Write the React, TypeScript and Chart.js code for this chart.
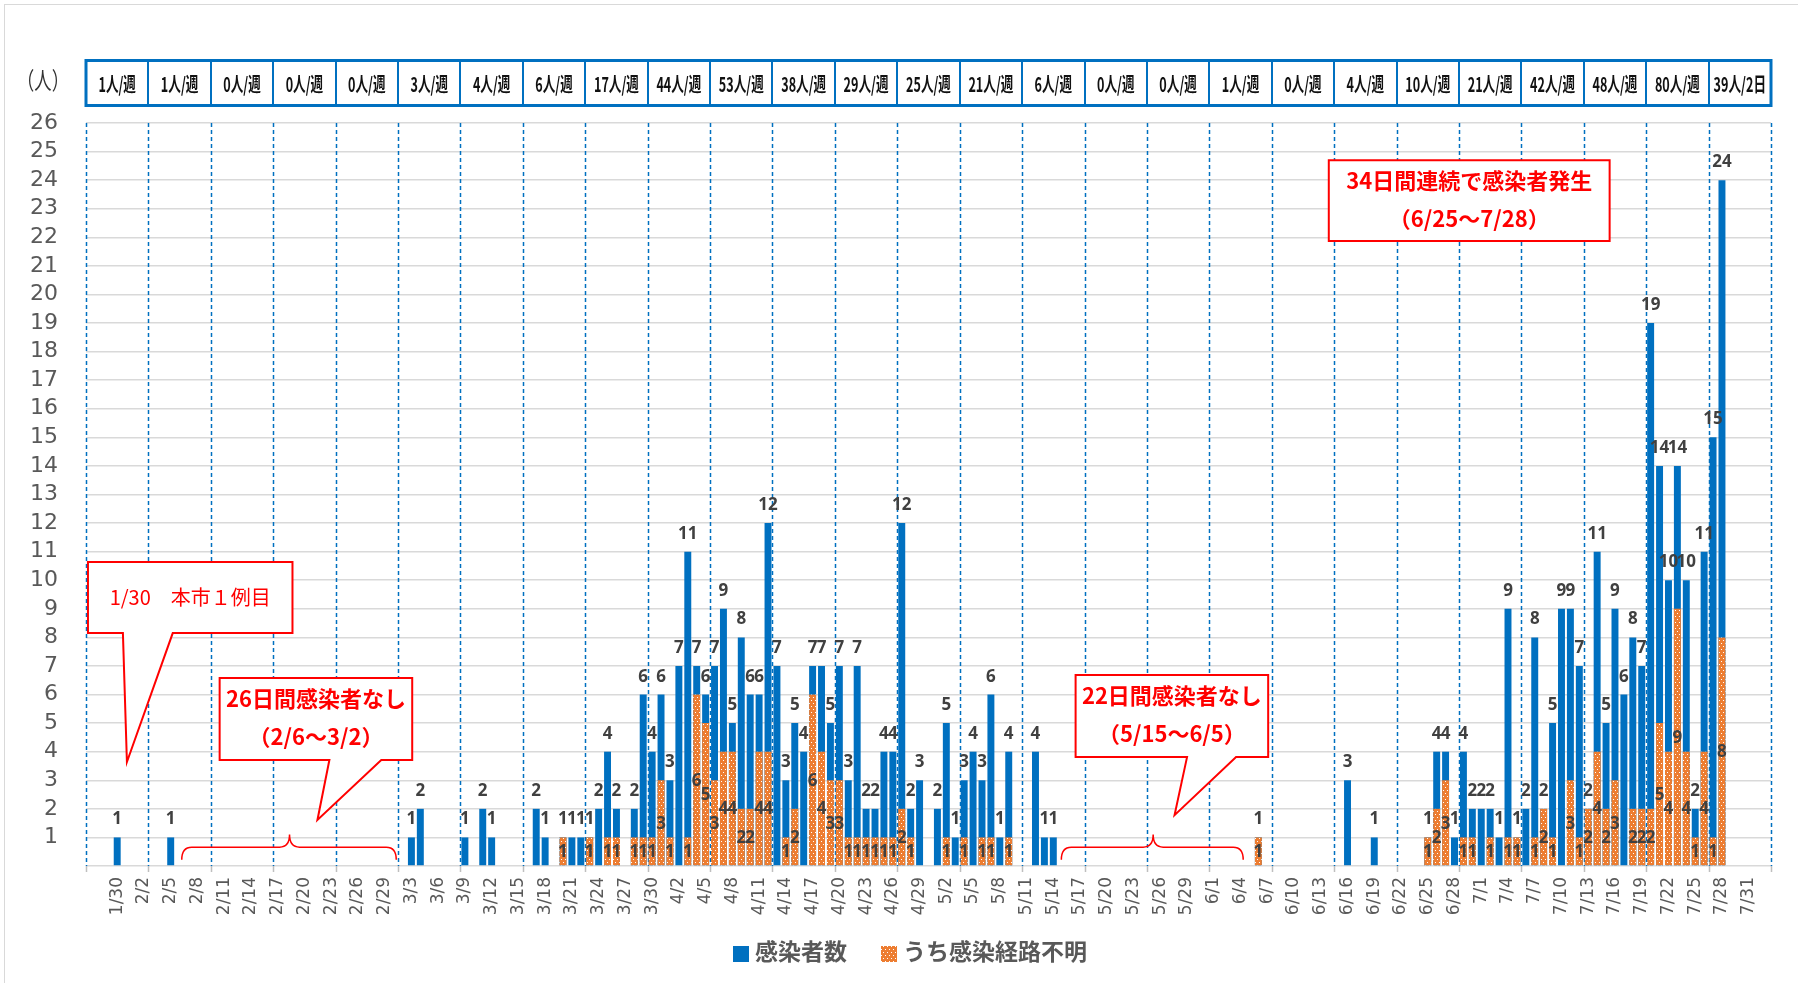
import React, { useEffect, useRef } from 'react';
import { Chart, registerables } from 'chart.js';
Chart.register(...registerables);

// ---- categories: daily, 1/27 .. 8/2 ----
const monthSpans: [number, number, number][] = [
  [1, 27, 31], [2, 1, 29], [3, 1, 31], [4, 1, 30], [5, 1, 31], [6, 1, 30], [7, 1, 31], [8, 1, 2],
];
const dayLabels: string[] = monthSpans.flatMap(([m, s, e]) =>
  Array.from({ length: e - s + 1 }, (_, k) => `${m}/${s + k}`)
);

// ---- daily totals (感染者数) ----
const totalJan = [0, 0, 0, 1, 0];
const totalFeb = [0, 0, 0, 0, 1, 0, 0, 0, 0, 0, 0, 0, 0, 0, 0, 0, 0, 0, 0, 0, 0, 0, 0, 0, 0, 0, 0, 0, 0];
const totalMar = [0, 0, 1, 2, 0, 0, 0, 0, 1, 0, 2, 1, 0, 0, 0, 0, 2, 1, 0, 1, 1, 1, 1, 2, 4, 2, 0, 2, 6, 4, 6];
const totalApr = [3, 7, 11, 7, 6, 7, 9, 5, 8, 6, 6, 12, 7, 3, 5, 4, 7, 7, 5, 7, 3, 7, 2, 2, 4, 4, 12, 2, 3, 0];
const totalMay = [2, 5, 1, 3, 4, 3, 6, 1, 4, 0, 0, 4, 1, 1, 0, 0, 0, 0, 0, 0, 0, 0, 0, 0, 0, 0, 0, 0, 0, 0, 0];
const totalJun = [0, 0, 0, 0, 0, 1, 0, 0, 0, 0, 0, 0, 0, 0, 0, 3, 0, 0, 1, 0, 0, 0, 0, 0, 1, 4, 4, 1, 4, 2];
const totalJul = [2, 2, 1, 9, 1, 2, 8, 2, 5, 9, 9, 7, 2, 11, 5, 9, 6, 8, 7, 19, 14, 10, 14, 10, 2, 11, 15, 24, 0, 0, 0];
const totalAug = [0, 0];

// ---- daily unknown-route (うち感染経路不明) ----
const unkJan = [0, 0, 0, 0, 0];
const unkFeb = [0, 0, 0, 0, 0, 0, 0, 0, 0, 0, 0, 0, 0, 0, 0, 0, 0, 0, 0, 0, 0, 0, 0, 0, 0, 0, 0, 0, 0];
const unkMar = [0, 0, 0, 0, 0, 0, 0, 0, 0, 0, 0, 0, 0, 0, 0, 0, 0, 0, 0, 1, 0, 0, 1, 0, 1, 1, 0, 1, 1, 1, 3];
const unkApr = [1, 0, 1, 6, 5, 3, 4, 4, 2, 2, 4, 4, 0, 1, 2, 0, 6, 4, 3, 3, 1, 1, 1, 1, 1, 1, 2, 1, 0, 0];
const unkMay = [0, 1, 0, 1, 0, 1, 1, 0, 1, 0, 0, 0, 0, 0, 0, 0, 0, 0, 0, 0, 0, 0, 0, 0, 0, 0, 0, 0, 0, 0, 0];
const unkJun = [0, 0, 0, 0, 0, 1, 0, 0, 0, 0, 0, 0, 0, 0, 0, 0, 0, 0, 0, 0, 0, 0, 0, 0, 1, 2, 3, 0, 1, 1];
const unkJul = [0, 1, 0, 1, 1, 0, 1, 2, 1, 0, 3, 1, 2, 4, 2, 3, 0, 2, 2, 2, 5, 4, 9, 4, 1, 4, 1, 8, 0, 0, 0];
const unkAug = [0, 0];

// ---- weekly header labels ----
const weekLabels = [
  '1人/週', '1人/週', '0人/週', '0人/週', '0人/週', '3人/週', '4人/週', '6人/週', '17人/週',
  '44人/週', '53人/週', '38人/週', '29人/週', '25人/週', '21人/週', '6人/週', '0人/週', '0人/週',
  '1人/週', '0人/週', '4人/週', '10人/週', '21人/週', '42人/週', '48人/週', '80人/週', '39人/2日',
];

const seriesNames = ['感染者数', 'うち感染経路不明'];
const yUnit = '（人）';

const totals = [...totalJan, ...totalFeb, ...totalMar, ...totalApr, ...totalMay, ...totalJun, ...totalJul, ...totalAug];
const unknowns = [...unkJan, ...unkFeb, ...unkMar, ...unkApr, ...unkMay, ...unkJun, ...unkJul, ...unkAug];

// annotation geometry in (day units from left edge, value units)
const callouts = [
  { l: 0.22, r: 23.16, t: 10.64, b: 8.15, base: [4.14, 9.73], tip: [4.59, 3.64], lines: ['1/30　本市１例目'], bold: false },
  { l: 14.99, r: 36.59, t: 6.58, b: 3.71, base: [27.3, 33.12], tip: [25.96, 1.61], lines: ['26日間感染者なし', '（2/6～3/2）'], bold: true },
  { l: 111.0, r: 132.6, t: 6.68, b: 3.81, base: [123.5, 129.0], tip: [122.1, 1.78], lines: ['22日間感染者なし', '（5/15～6/5）'], bold: true },
  { l: 139.4, r: 170.9, t: 24.7, b: 21.87, base: null, tip: null, lines: ['34日間連続で感染者発生', '（6/25～7/28）'], bold: true },
];
const braces = [
  { x1: 10.74, x2: 34.8, xm: 22.83 },
  { x1: 109.4, x2: 129.8, xm: 119.7 },
];

const BLUE = '#0070C0';
const ORANGE = '#ED7D31';
const CJK = '"Noto Sans CJK JP"';

function makePattern(): CanvasPattern | string {
  const c = document.createElement('canvas');
  c.width = 4; c.height = 6;
  const g = c.getContext('2d');
  if (!g) return ORANGE;
  g.fillStyle = ORANGE; g.fillRect(0, 0, 4, 6);
  g.fillStyle = '#ffffff';
  g.fillRect(1, 1, 1, 1);
  g.fillRect(3, 4, 1, 1);
  return g.createPattern(c, 'repeat') || ORANGE;
}

export default function App() {
  const ref = useRef<HTMLCanvasElement>(null);
  useEffect(() => {
    const canvas = ref.current;
    if (!canvas) return;
    const pattern = makePattern();

    const deco = {
      id: 'deco',
      beforeDatasetsDraw(chart: any) {
        const { ctx, chartArea } = chart;
        const xs = chart.scales.x;
        const dayW = xs.getPixelForValue(1) - xs.getPixelForValue(0);
        const x0 = xs.getPixelForValue(0) - dayW / 2;
        ctx.save();
        for (let k = 0; k <= 27; k++) {
          const x = Math.round(x0 + k * 7 * dayW) + 0.5;
          ctx.setLineDash([4, 3]);
          ctx.strokeStyle = BLUE;
          ctx.lineWidth = 1.5;
          ctx.beginPath();
          ctx.moveTo(x, chartArea.top);
          ctx.lineTo(x, chartArea.bottom);
          ctx.stroke();
          ctx.setLineDash([]);
          ctx.strokeStyle = '#bfbfbf';
          ctx.lineWidth = 1.5;
          ctx.beginPath();
          ctx.moveTo(x, chartArea.bottom);
          ctx.lineTo(x, chartArea.bottom + 6);
          ctx.stroke();
        }
        ctx.restore();
      },
      afterDatasetsDraw(chart: any) {
        const { ctx } = chart;
        const xs = chart.scales.x;
        const ys = chart.scales.y;
        const dayW = xs.getPixelForValue(1) - xs.getPixelForValue(0);
        const x0 = xs.getPixelForValue(0) - dayW / 2;
        const X = (d: number) => x0 + d * dayW;
        const Y = (v: number) => ys.getPixelForValue(v);
        ctx.save();

        // outer chart border
        ctx.strokeStyle = '#d9d9d9';
        ctx.lineWidth = 1;
        ctx.strokeRect(4.5, 4.5, 1900, 1100);

        // unit label
        ctx.fillStyle = '#333333';
        ctx.font = `24px ${CJK}`;
        ctx.textAlign = 'center';
        ctx.textBaseline = 'middle';
        ctx.save();
        ctx.translate(43, 80);
        ctx.scale(0.72, 1);
        ctx.fillText(yUnit, 0, 0);
        ctx.restore();

        // header row
        const hTop = 60.5, hBot = 105.5;
        const hx0 = X(0), hx1 = X(189);
        ctx.fillStyle = '#ffffff';
        ctx.fillRect(hx0, hTop, hx1 - hx0, hBot - hTop);
        ctx.strokeStyle = BLUE;
        ctx.lineWidth = 2;
        for (let k = 1; k < 27; k++) {
          const x = Math.round(X(k * 7));
          ctx.beginPath();
          ctx.moveTo(x, hTop);
          ctx.lineTo(x, hBot);
          ctx.stroke();
        }
        ctx.lineWidth = 3;
        ctx.strokeRect(hx0, hTop, hx1 - hx0, hBot - hTop);
        ctx.fillStyle = '#111111';
        ctx.font = `bold 20px ${CJK}`;
        weekLabels.forEach((t, k) => {
          const cx = X(k * 7 + 3.5);
          ctx.save();
          ctx.translate(cx, 84);
          ctx.scale(0.63, 1);
          ctx.fillText(t, 0, 0);
          ctx.restore();
        });

        // braces
        ctx.strokeStyle = '#ff0000';
        ctx.lineWidth = 1.5;
        braces.forEach((br) => {
          const a = X(br.x1), b = X(br.x2), m = X(br.xm);
          const yE = Y(0.22), yH = Y(0.66), yP = Y(1.1);
          const r = 10;
          ctx.beginPath();
          ctx.moveTo(a, yE);
          ctx.quadraticCurveTo(a, yH, a + r, yH);
          ctx.lineTo(m - r, yH);
          ctx.quadraticCurveTo(m, yH, m, yP);
          ctx.quadraticCurveTo(m, yH, m + r, yH);
          ctx.lineTo(b - r, yH);
          ctx.quadraticCurveTo(b, yH, b, yE);
          ctx.stroke();
        });

        // callouts
        callouts.forEach((c) => {
          const l = X(c.l), r = X(c.r), t = Y(c.t), b = Y(c.b);
          ctx.beginPath();
          ctx.moveTo(l, t);
          ctx.lineTo(r, t);
          ctx.lineTo(r, b);
          if (c.base && c.tip) {
            ctx.lineTo(X(c.base[1]), b);
            ctx.lineTo(X(c.tip[0]), Y(c.tip[1]));
            ctx.lineTo(X(c.base[0]), b);
          }
          ctx.lineTo(l, b);
          ctx.closePath();
          ctx.fillStyle = '#ffffff';
          ctx.fill();
          ctx.strokeStyle = '#ff0000';
          ctx.lineWidth = 2;
          ctx.stroke();
          ctx.fillStyle = '#ff0000';
          ctx.font = c.bold ? `bold 22px ${CJK}` : `20px ${CJK}`;
          ctx.textAlign = 'center';
          ctx.textBaseline = 'middle';
          const cx = (l + r) / 2, cy = (t + b) / 2;
          if (c.lines.length === 1) {
            ctx.fillText(c.lines[0], cx, cy);
          } else {
            ctx.fillText(c.lines[0], cx, cy - 20);
            ctx.fillText(c.lines[1], cx, cy + 18);
          }
        });

        // data labels
        const metaT = chart.getDatasetMeta(1);
        const metaU = chart.getDatasetMeta(0);
        ctx.fillStyle = '#404040';
        ctx.font = 'bold 17px "Noto Sans"';
        ctx.textAlign = 'center';
        metaT.data.forEach((el: any, i: number) => {
          const v = totals[i];
          if (!v) return;
          ctx.textBaseline = 'alphabetic';
          ctx.fillText(String(v), el.x, el.y - 13);
        });
        metaU.data.forEach((el: any, i: number) => {
          const v = unknowns[i];
          if (!v) return;
          ctx.textBaseline = 'middle';
          ctx.fillText(String(v), el.x, (el.y + el.base) / 2 + 1);
        });

        // legend
        ctx.fillStyle = BLUE;
        ctx.fillRect(733, 946, 16, 16);
        ctx.fillStyle = pattern as any;
        ctx.fillRect(881, 946, 16, 16);
        ctx.fillStyle = '#595959';
        ctx.font = `bold 23px ${CJK}`;
        ctx.textAlign = 'left';
        ctx.textBaseline = 'middle';
        ctx.fillText(seriesNames[0], 755, 951);
        ctx.fillText(seriesNames[1], 903, 951);

        ctx.restore();
      },
    };

    const chart = new Chart(canvas, {
      type: 'bar',
      data: {
        labels: dayLabels,
        datasets: [
          {
            label: seriesNames[1],
            data: unknowns,
            backgroundColor: pattern as any,
            grouped: false,
            order: 0,
            barPercentage: 0.78,
            categoryPercentage: 1,
          } as any,
          {
            label: seriesNames[0],
            data: totals,
            backgroundColor: BLUE,
            grouped: false,
            order: 1,
            barPercentage: 0.78,
            categoryPercentage: 1,
          } as any,
        ],
      },
      options: {
        responsive: false,
        animation: false,
        layout: { padding: { top: 123, right: 23, left: 0, bottom: 0 } },
        plugins: {
          legend: { display: false },
          tooltip: { enabled: false },
        },
        scales: {
          x: {
            offset: true,
            grid: { display: false, drawTicks: false },
            border: { display: false },
            ticks: {
              autoSkip: false,
              minRotation: 90,
              maxRotation: 90,
              padding: 11,
              color: '#595959',
              font: { family: '"DejaVu Sans"', size: 17 },
              callback: (_v: any, i: number) => (i % 3 === 0 && i > 0 ? dayLabels[i] : ''),
            },
            afterFit: (s: any) => { s.height = 117; },
          },
          y: {
            min: 0,
            max: 26,
            grid: { color: '#d9d9d9', lineWidth: 1.5, drawTicks: false },
            border: { display: false },
            ticks: {
              stepSize: 1,
              autoSkip: false,
              padding: 28,
              color: '#595959',
              font: { family: '"DejaVu Sans"', size: 22 },
              callback: (v: any) => (v === 0 ? '' : String(v)),
            },
            afterFit: (s: any) => { s.width = 86; },
          },
        },
      } as any,
      plugins: [deco],
    });
    return () => chart.destroy();
  }, []);

  return (
    <div style={{ position: 'fixed', left: 0, top: 0, width: 1798, height: 983, background: '#ffffff' }}>
      <canvas ref={ref} width={1798} height={983} style={{ display: 'block', width: 1798, height: 983 }} />
    </div>
  );
}
